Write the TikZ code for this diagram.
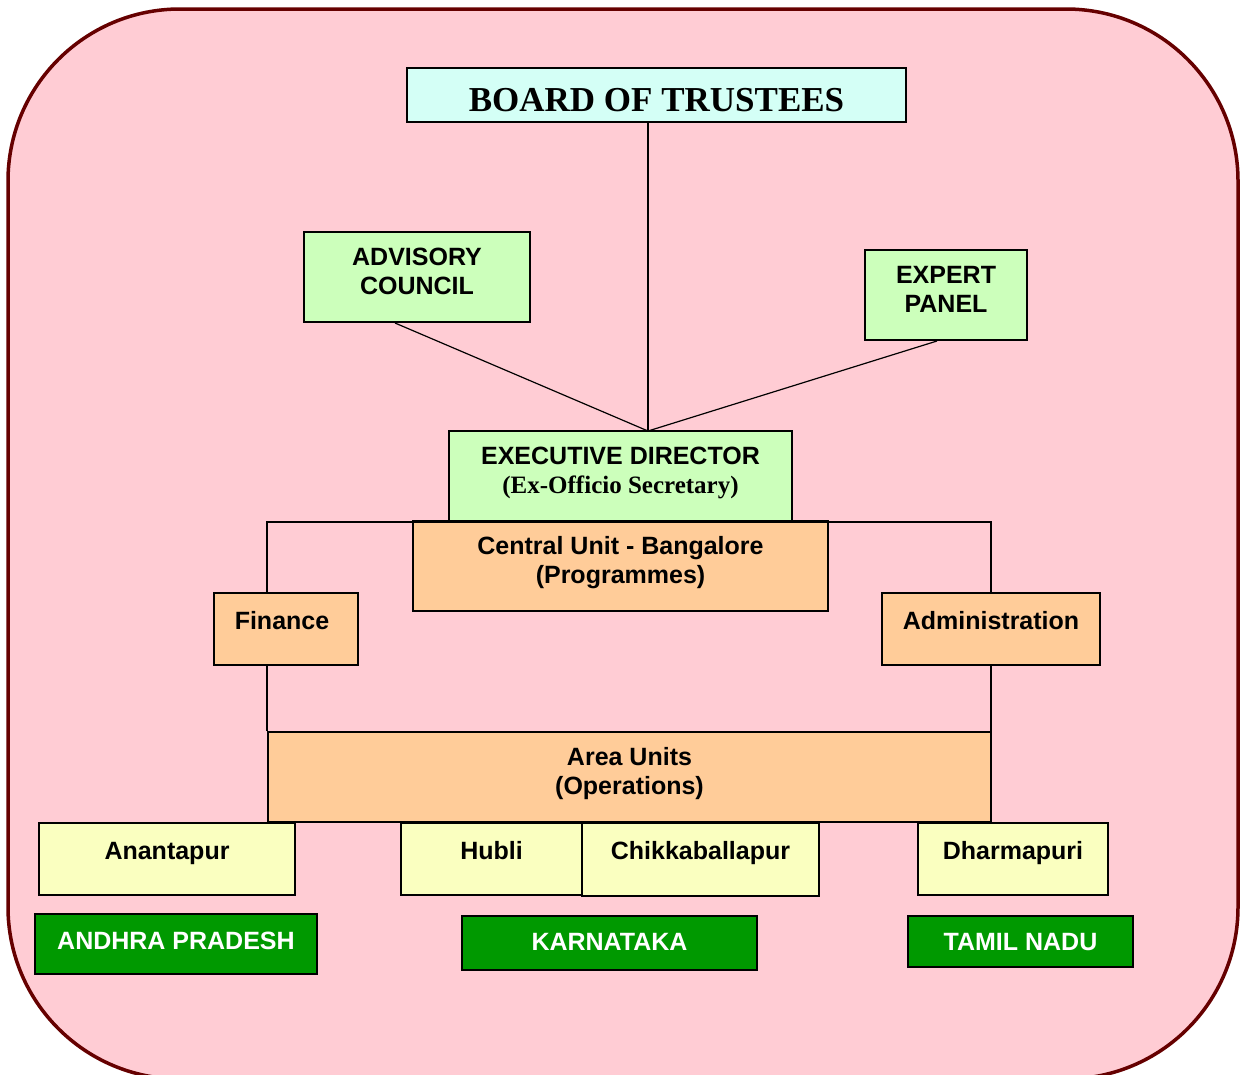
\documentclass[tikz,border=0pt]{standalone}
\usepackage{fontspec}
\setmainfont{Liberation Serif}
\setsansfont{Liberation Sans}
\usepackage{tikz}

\definecolor{bgpink}{RGB}{255,204,212}
\definecolor{framered}{RGB}{102,0,0}
\definecolor{boardcyan}{RGB}{212,255,246}
\definecolor{lightgreen}{RGB}{204,255,187}
\definecolor{peach}{RGB}{255,204,153}
\definecolor{paleyellow}{RGB}{250,255,192}
\definecolor{stategreen}{RGB}{0,153,0}

\begin{document}
\begin{tikzpicture}[x=1pt,y=-1pt]
        \useasboundingbox (0,0) rectangle (1241,1074);
        \draw[framered, line width=3.5pt, fill=bgpink, rounded corners=172pt] (8,9) rectangle (1238,1079);
        \begin{scope}[every node/.style={draw, line width=2pt, inner sep=0pt, align=center, font=\sffamily\bfseries\fontsize{25}{29}\selectfont, text depth=12pt}]
                \node[fill=boardcyan, minimum width=499pt, minimum height=54pt, font=\rmfamily\bfseries\fontsize{35}{40}\selectfont, text height=33pt, text depth=0pt] (board) at (656.5,95) {BOARD OF TRUSTEES};
                \node[fill=lightgreen, minimum width=226pt, minimum height=90pt] (adv) at (417,277) {ADVISORY\\COUNCIL};
                \node[fill=lightgreen, minimum width=162pt, minimum height=90pt] (exp) at (946,295) {EXPERT\\PANEL};
                \node[fill=lightgreen, minimum width=343pt, minimum height=90pt] (exec) at (620.5,476) {EXECUTIVE DIRECTOR\\{\rmfamily (Ex-Officio Secretary)}};
                \node[fill=peach, minimum width=415pt, minimum height=90pt] (central) at (620.5,566) {Central Unit - Bangalore\\(Programmes)};
                \node[fill=peach, minimum width=144pt, minimum height=72pt, text height=18pt, text depth=18pt] (fin) at (286,629) {Finance\hspace{8pt}};
                \node[fill=peach, minimum width=218pt, minimum height=72pt, text height=18pt, text depth=18pt] (adm) at (991,629) {Administration};
                \node[fill=peach, minimum width=723pt, minimum height=90pt] (area) at (629.5,777) {Area Units\\(Operations)};
                \node[fill=paleyellow, minimum width=256pt, minimum height=72pt, text height=18pt, text depth=18pt] (anan) at (167,859) {Anantapur};
                \node[fill=paleyellow, minimum width=181pt, minimum height=72pt, text height=18pt, text depth=18pt] (hubli) at (491.5,859) {Hubli};
                \node[fill=paleyellow, minimum width=237pt, minimum height=73pt, text height=18pt, text depth=18pt] (chik) at (700.5,859.5) {Chikkaballapur};
                \node[fill=paleyellow, minimum width=190pt, minimum height=72pt, text height=18pt, text depth=18pt] (dhar) at (1013,859) {Dharmapuri};
                \node[fill=stategreen, text=white, minimum width=282pt, minimum height=60pt, text height=18pt, text depth=8pt] (ap) at (176,944) {ANDHRA PRADESH};
                \node[fill=stategreen, text=white, minimum width=295pt, minimum height=54pt, text height=18pt, text depth=4pt] (ka) at (609.5,943) {KARNATAKA};
                \node[fill=stategreen, text=white, minimum width=225pt, minimum height=51pt, text height=18pt, text depth=0pt] (tn) at (1020.5,941.5) {TAMIL NADU};
        \end{scope}
        \coordinate (apex) at (648,431);
        \begin{scope}[line width=1.2pt]
                \draw (board.south -| apex) -- (apex);
                \draw ([xshift=-22pt]adv.south) -- (apex);
                \draw ([xshift=-9pt]exp.south) -- (apex);
                \draw (area.north west |- fin.north) |- (adm.north |- exec.south) -- (adm.north);
                \draw (area.north west |- fin.south) -- (area.north west);
                \draw (adm.south) -- (adm.south |- area.north);
        \end{scope}
\end{tikzpicture}
\end{document}
